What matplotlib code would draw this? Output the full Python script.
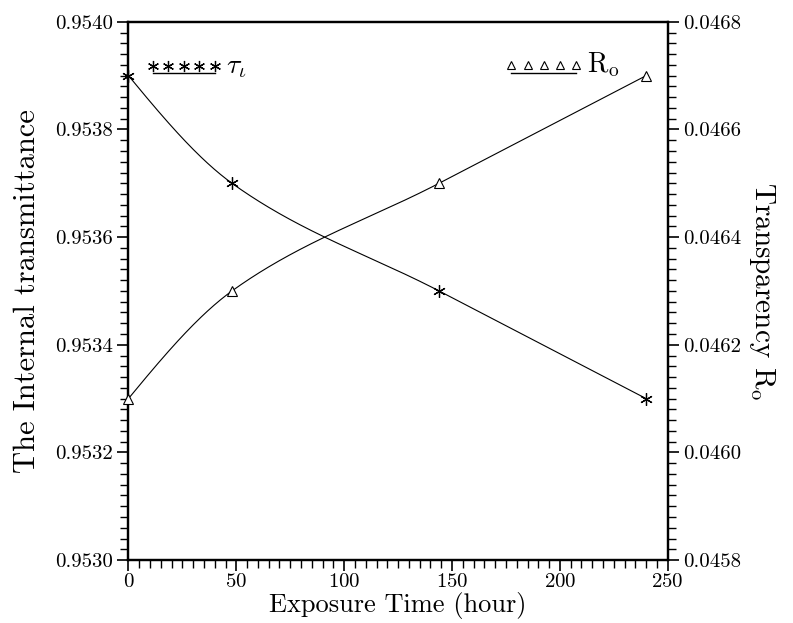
import numpy as np
import matplotlib.pyplot as plt
from matplotlib.ticker import MultipleLocator, FormatStrFormatter

plt.rc("font", family="cmr10", size=15)
plt.rc("mathtext", fontset="cm")
plt.rcParams["axes.formatter.use_mathtext"] = True

hours = [0, 48, 144, 240]
tau_i = [0.9539, 0.9537, 0.9535, 0.9533]
r_o = [0.0461, 0.0463, 0.0465, 0.0467]


def pchip(x, y, xs):
    # monotone cubic (Fritsch-Carlson) used only to draw the smooth line
    x = np.asarray(x, float)
    y = np.asarray(y, float)
    h = np.diff(x)
    d = np.diff(y) / h
    m = np.zeros_like(y)
    for k in range(1, len(x) - 1):
        if d[k - 1] * d[k] > 0:
            w1 = 2 * h[k] + h[k - 1]
            w2 = h[k] + 2 * h[k - 1]
            m[k] = (w1 + w2) / (w1 / d[k - 1] + w2 / d[k])
    m[0] = ((2 * h[0] + h[1]) * d[0] - h[0] * d[1]) / (h[0] + h[1])
    m[-1] = ((2 * h[-1] + h[-2]) * d[-1] - h[-1] * d[-2]) / (h[-1] + h[-2])
    i = np.clip(np.searchsorted(x, xs) - 1, 0, len(x) - 2)
    t = (xs - x[i]) / h[i]
    h00 = 2 * t**3 - 3 * t**2 + 1
    h10 = t**3 - 2 * t**2 + t
    h01 = -2 * t**3 + 3 * t**2
    h11 = t**3 - t**2
    return h00 * y[i] + h10 * h[i] * m[i] + h01 * y[i + 1] + h11 * h[i] * m[i + 1]


fig = plt.figure(figsize=(7.93, 6.23), dpi=100)
ax = fig.add_axes([0.162, 0.101, 0.680, 0.864])
ax2 = ax.twinx()

xs = np.linspace(hours[0], hours[-1], 400)
ax.plot(xs, pchip(hours, tau_i, xs), color="black", lw=0.8)
ax.plot(hours, tau_i, ls="none", marker=(6, 2, 0), ms=9, mew=0.9, color="black",
        clip_on=False, zorder=5)
ax2.plot(xs, pchip(hours, r_o, xs), color="black", lw=0.8)
ax2.plot(hours, r_o, ls="none", marker="^", ms=7, mew=0.8, mfc="white",
         color="black", clip_on=False, zorder=5)

ax.set_xlim(0, 250)
ax.set_ylim(0.9530, 0.9540)
ax2.set_ylim(0.0458, 0.0468)

ax.xaxis.set_major_locator(MultipleLocator(50))
ax.xaxis.set_minor_locator(MultipleLocator(5))
for a in (ax, ax2):
    a.yaxis.set_major_locator(MultipleLocator(0.0002))
    a.yaxis.set_minor_locator(MultipleLocator(0.00002))
    a.yaxis.set_major_formatter(FormatStrFormatter("%.4f"))
    a.tick_params(which="major", direction="out", length=8, width=1.2,
                  labelsize=15, pad=3)
    a.tick_params(which="minor", direction="out", length=6, width=1.0)
    for s in a.spines.values():
        s.set_linewidth(1.6)
ax.tick_params(axis="x", pad=1)

ax.set_xlabel("Exposure Time (hour)", fontsize=19, labelpad=1)
ax.set_ylabel("The Internal transmittance", fontsize=22, labelpad=10)
ax2.set_ylabel(r"Transparency R$_\mathrm{o}$", fontsize=21, rotation=270,
               labelpad=26)

# legend keys drawn by hand: five markers above a short rule
kx = np.linspace(0.045, 0.16, 5)
ax.plot(kx, [0.918] * 5, ls="none", marker=(6, 2, 0), ms=8, mew=0.9,
        color="black", transform=ax.transAxes)
ax.plot([0.045, 0.16], [0.905, 0.905], color="black", lw=1.0,
        transform=ax.transAxes)
ax.text(0.18, 0.917, r"$\tau_\iota$", fontsize=20, va="center",
        transform=ax.transAxes)

kx2 = np.linspace(0.71, 0.83, 5)
ax.plot(kx2, [0.92] * 5, ls="none", marker="^", ms=6, mew=0.8, mfc="white",
        color="black", transform=ax.transAxes)
ax.plot([0.71, 0.83], [0.905, 0.905], color="black", lw=1.0,
        transform=ax.transAxes)
ax.text(0.85, 0.92, r"R$_\mathrm{o}$", fontsize=20, va="center",
        transform=ax.transAxes)

plt.savefig("out.png", dpi=100)
